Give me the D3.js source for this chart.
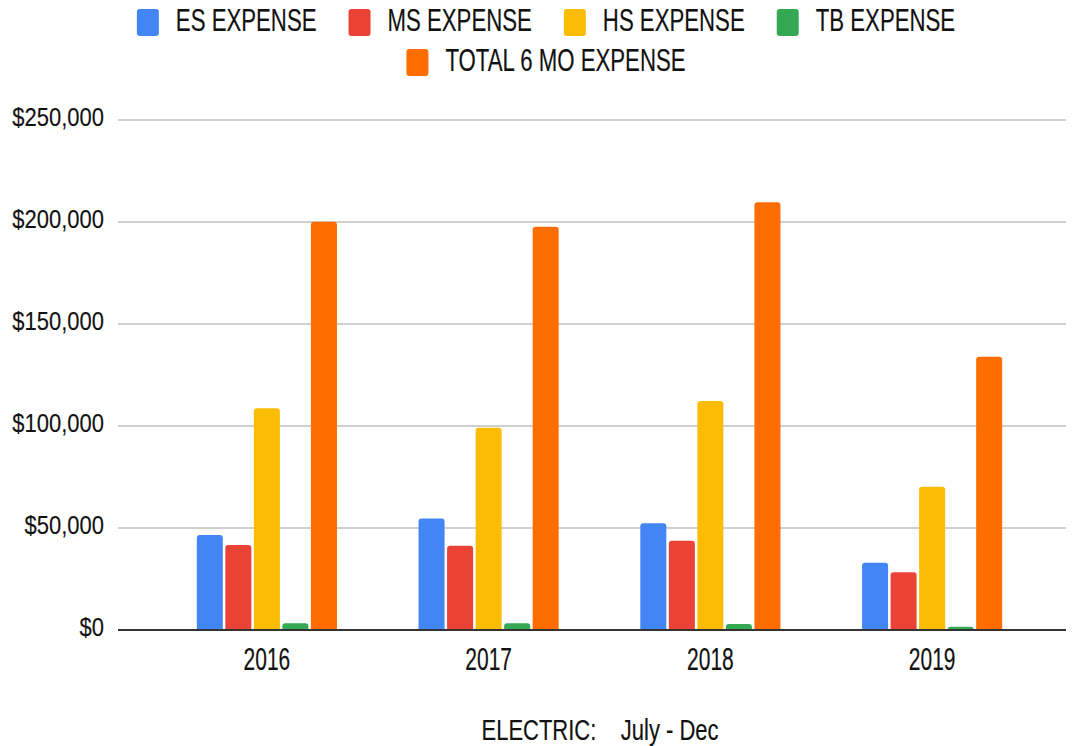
<!DOCTYPE html>
<html>
<head>
<meta charset="utf-8">
<script src="https://cdn.jsdelivr.net/npm/d3@7"></script>
<style>
  html, body { margin: 0; padding: 0; background: #fff; }
  svg { display: block; }
  text { font-family: "Liberation Sans", Arial, sans-serif; fill: #111; stroke: #111; stroke-width: 0.12px; }
</style>
</head>
<body>
<svg id="chart" width="1073" height="746"></svg>
<script>
const years = ["2016", "2017", "2018", "2019"];
const seriesNames = ["ES EXPENSE", "MS EXPENSE", "HS EXPENSE", "TB EXPENSE", "TOTAL 6 MO EXPENSE"];
const seriesColors = ["#4285F4", "#EA4335", "#FBBC04", "#34A853", "#FF6D01"];
const esExpense = [46600, 54700, 52300, 33000];
const msExpense = [41700, 41300, 43800, 28300];
const hsExpense = [108700, 99200, 112300, 70200];
const tbExpense = [3300, 3300, 3000, 1600];
const totalExpense = [200100, 197700, 209700, 134000];
const yTicks = [0, 50000, 100000, 150000, 200000, 250000];
const xTitle = "ELECTRIC:    July - Dec";

const seriesValues = [esExpense, msExpense, hsExpense, tbExpense, totalExpense];

const svg = d3.select("#chart");

const y = d3.scaleLinear().domain([0, 250000]).range([630, 120]);
const x0 = d3.scaleBand().domain(years).range([156, 1043]).paddingInner(0.368).paddingOuter(0.184);
const x1 = d3.scaleBand().domain(seriesNames).range([0, x0.bandwidth()]).paddingInner(0.0877).paddingOuter(0);

const gridLeft = 118, gridRight = 1066;

// gridlines
svg.append("g").selectAll("line").data(yTicks.filter(d => d > 0)).join("line")
  .attr("x1", gridLeft).attr("x2", gridRight)
  .attr("y1", d => y(d)).attr("y2", d => y(d))
  .attr("stroke", "#cfcfcf").attr("stroke-width", 2);

// y tick labels (vertically stretched glyphs)
const fmt = d3.format("$,");
svg.append("g").selectAll("text").data(yTicks).join("text")
  .attr("transform", d => `translate(104,${y(d) + 6}) scale(1,1.15)`)
  .attr("text-anchor", "end")
  .style("font-size", "22px")
  .text(d => fmt(d));

// bars with rounded top corners
function barPath(xp, w, top, bottom, r) {
  const h = bottom - top;
  r = Math.min(r, h, w / 2);
  return `M${xp},${bottom} L${xp},${top + r} Q${xp},${top} ${xp + r},${top} L${xp + w - r},${top} Q${xp + w},${top} ${xp + w},${top + r} L${xp + w},${bottom} Z`;
}
const barData = [];
years.forEach((yr, i) => {
  seriesNames.forEach((s, j) => {
    barData.push({ year: yr, series: s, value: seriesValues[j][i], color: seriesColors[j] });
  });
});
svg.append("g").selectAll("path").data(barData).join("path")
  .attr("d", d => barPath(x0(d.year) + x1(d.series), x1.bandwidth(), y(d.value), y(0), 3))
  .attr("fill", d => d.color);

// baseline
svg.append("line").attr("x1", gridLeft).attr("x2", gridRight)
  .attr("y1", y(0)).attr("y2", y(0)).attr("stroke", "#333").attr("stroke-width", 2);

// x labels
svg.append("g").selectAll("text").data(years).join("text")
  .attr("transform", d => `translate(${x0(d) + x0.bandwidth() / 2},670) scale(1,1.5)`)
  .attr("text-anchor", "middle")
  .style("font-size", "21px")
  .text(d => d);

// x title
svg.append("text")
  .attr("transform", `translate(600,740) scale(1,1.3)`)
  .attr("text-anchor", "middle")
  .attr("xml:space", "preserve")
  .style("white-space", "pre")
  .style("font-size", "22px")
  .text(xTitle);

// legend
const rows = [[0, 1, 2, 3], [4]];
const rowBase = [31, 71];
const legendCenter = 546;
const sqW = 22, sqH = 27, sqGap = 17, itemGap = 32;
rows.forEach((row, ri) => {
  const g = svg.append("g");
  const items = row.map(j => {
    const ig = g.append("g");
    ig.append("rect").attr("width", sqW).attr("height", sqH).attr("rx", 3)
      .attr("y", rowBase[ri] - 22).attr("fill", seriesColors[j]);
    const t = ig.append("text")
      .attr("transform", `translate(${sqW + sqGap},${rowBase[ri]}) scale(1,1.38)`)
      .style("font-size", "22.2px")
      .text(seriesNames[j]);
    const w = sqW + sqGap + t.node().getComputedTextLength();
    return { ig, w };
  });
  const total = d3.sum(items, d => d.w) + itemGap * (items.length - 1);
  let cx = legendCenter - total / 2;
  items.forEach(it => {
    it.ig.attr("transform", `translate(${cx},0)`);
    cx += it.w + itemGap;
  });
});
</script>
</body>
</html>
